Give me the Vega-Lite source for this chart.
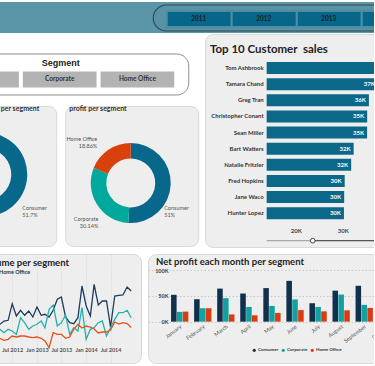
{
 "$schema": "https://vega.github.io/schema/vega-lite/v6.json",
 "background": "white",
 "padding": {"left": -78, "right": -57, "top": 2, "bottom": 0},
 "config": {
  "font": "Lato",
  "view": {"stroke": null},
  "axis": {"labelFont": "Lato"},
  "legend": {"labelFont": "Lato"},
  "title": {"font": "Lato"}
 },
 "spacing": 5,
 "resolve": {"scale": {"color": "independent", "fill": "independent", "stroke": "independent"}, "legend": {"color": "independent", "fill": "independent", "stroke": "independent"}},
 "vconcat": [
  {
   "spacing": 0,
   "resolve": {"scale": {"color": "independent", "fill": "independent", "stroke": "independent"}, "legend": {"color": "independent", "fill": "independent", "stroke": "independent"}},
   "vconcat": [
    {
     "width": 508,
     "height": 31,
     "view": {"fill": "#5b96a8", "stroke": null},
     "resolve": {"scale": {"y": "independent"}},
     "layer": [
      {
       "data": {"values": [{}]},
       "mark": {"type": "rect", "fill": "#5892a4", "stroke": "#2e4b56", "strokeWidth": 1.2, "cornerRadius": 13, "clip": true},
       "encoding": {
        "x": {"datum": {"year": 2010, "month": 10, "date": 20}, "type": "temporal", "scale": {"domain": [{"year": 2007, "month": 4, "date": 5}, {"year": 2015, "month": 1, "date": 28}], "nice": false}, "axis": null},
        "x2": {"datum": {"year": 2015, "month": 8, "date": 1}},
        "y": {"datum": "o", "type": "nominal", "scale": {"paddingInner": 0, "paddingOuter": 0.096, "align": 0.6}, "axis": null}
       }
      },
      {
       "data": {"values": [{"year": "2011-01-01T00:00:00"}, {"year": "2012-01-01T00:00:00"}, {"year": "2013-01-01T00:00:00"}, {"year": "2014-01-01T00:00:00"}]},
       "encoding": {
        "y": {"datum": "b", "type": "nominal", "scale": {"paddingInner": 0, "paddingOuter": 0.469, "align": 0.6}, "axis": null}
       },
       "layer": [
        {"mark": {"type": "rect", "fill": "#07678a", "stroke": "#4f8ea2", "strokeWidth": 2}, "encoding": {"x": {"field": "year", "type": "temporal", "timeUnit": "year", "axis": null}}},
        {"mark": {"type": "text", "fontSize": 6.5, "fontWeight": "bold", "color": "#1d1d1d"}, "encoding": {"x": {"field": "year", "type": "temporal", "timeUnit": "year", "bandPosition": 0.5, "axis": null}, "text": {"field": "year", "type": "temporal", "timeUnit": "year", "format": "%Y"}}}
       ]
      }
     ]
    },
    {
     "spacing": 5,
     "resolve": {"scale": {"color": "independent", "fill": "independent", "stroke": "independent"}, "legend": {"color": "independent", "fill": "independent", "stroke": "independent"}},
     "hconcat": [
      {
       "spacing": 8.5,
       "center": true,
       "vconcat": [
        {
         "width": 255,
         "height": 9.5,
         "data": {"values": [{}]},
         "mark": {"type": "rect", "opacity": 0}
        },
        {
         "width": 255,
         "height": 41,
         "view": {"fill": "white", "stroke": "#8c8c8c", "strokeWidth": 1, "cornerRadius": 12},
         "title": {"text": "Segment", "font": "Liberation Sans", "fontSize": 9, "fontWeight": "bold", "color": "#222", "anchor": "middle", "frame": "group", "offset": -14.5},
         "data": {"values": [{"segment": "Consumer"}, {"segment": "Corporate"}, {"segment": "Home Office"}]},
         "encoding": {
          "x": {"field": "segment", "type": "nominal", "scale": {"paddingInner": 0.0515, "paddingOuter": 0.167, "align": 0.46}, "axis": null},
          "y": {"datum": "b", "type": "nominal", "scale": {"paddingInner": 0, "paddingOuter": 0.78, "align": 0.72}, "axis": null}
         },
         "layer": [
          {"mark": {"type": "rect", "fill": "#b3b3b3"}},
          {"mark": {"type": "text", "fontSize": 6.5, "fontWeight": "bold", "color": "#333"}, "encoding": {"text": {"field": "segment"}}}
         ]
        },
        {
         "spacing": 7,
         "hconcat": [
          {
           "width": 133,
           "height": 140,
           "view": {"fill": "#eeeeee", "stroke": "#d9d9d9", "cornerRadius": 8},
           "title": {"text": "sales per segment", "anchor": "end", "frame": "group", "dx": -17, "offset": -5.5, "fontSize": 7, "fontWeight": "bold", "color": "#333"},
           "data": {"values": [{"segment": "Consumer", "share": 0.517}, {"segment": "Corporate", "share": 0.304}, {"segment": "Home Office", "share": 0.179}]},
           "transform": [
            {"stack": "share", "groupby": [], "as": ["t0", "t1"]},
            {"calculate": "(datum.t0 + datum.t1) / 2", "as": "mid"},
            {"calculate": "datum.segment + '\\n' + format(datum.share, '.4~%')", "as": "label"}
           ],
           "layer": [
            {
             "mark": {"type": "arc", "radius": 42, "innerRadius": 26, "xOffset": -4.5, "yOffset": -1.5},
             "encoding": {
              "theta": {"field": "t0", "type": "quantitative", "scale": {"domain": [0, 1]}},
              "theta2": {"field": "t1"},
              "color": {"field": "segment", "type": "nominal", "scale": {"domain": ["Consumer", "Corporate", "Home Office"], "range": ["#07688b", "#01a99d", "#d8400c"]}, "legend": null}
             }
            },
            {
             "transform": [{"filter": "datum.segment === 'Consumer'"}],
             "mark": {"type": "text", "radius": 48, "align": "left", "baseline": "middle", "lineBreak": "\n", "lineHeight": 7, "dx": -10.9, "dy": 30.5, "xOffset": -4.5, "yOffset": -1.5, "fontSize": 5.5, "color": "#555"},
             "encoding": {"theta": {"field": "mid", "type": "quantitative", "scale": {"domain": [0, 1]}}, "text": {"field": "label"}}
            }
           ]
          },
          {
           "width": 133,
           "height": 140,
           "view": {"fill": "#eeeeee", "stroke": "#d9d9d9", "cornerRadius": 8},
           "title": {"text": "profit per segment", "anchor": "start", "frame": "group", "dx": 4, "offset": -5.5, "fontSize": 7, "fontWeight": "bold", "color": "#333"},
           "data": {"values": [{"segment": "Consumer", "share": 0.51}, {"segment": "Corporate", "share": 0.3014}, {"segment": "Home Office", "share": 0.1886}]},
           "transform": [
            {"stack": "share", "groupby": [], "as": ["t0", "t1"]},
            {"calculate": "(datum.t0 + datum.t1) / 2", "as": "mid"},
            {"calculate": "datum.segment + '\\n' + format(datum.share, '.4~%')", "as": "label"}
           ],
           "layer": [
            {
             "mark": {"type": "arc", "radius": 40, "innerRadius": 24.5, "xOffset": -1, "yOffset": 7},
             "encoding": {
              "theta": {"field": "t0", "type": "quantitative", "scale": {"domain": [0, 1]}},
              "theta2": {"field": "t1"},
              "color": {"field": "segment", "type": "nominal", "scale": {"domain": ["Consumer", "Corporate", "Home Office"], "range": ["#07688b", "#01a99d", "#d8400c"]}, "legend": null}
             }
            },
            {
             "transform": [{"filter": "datum.segment === 'Consumer'"}],
             "mark": {"type": "text", "radius": 48, "align": "left", "baseline": "middle", "lineBreak": "\n", "lineHeight": 7, "dx": -14.5, "dy": 23.5, "xOffset": -1, "yOffset": 7, "fontSize": 5.5, "color": "#555"},
             "encoding": {"theta": {"field": "mid", "type": "quantitative", "scale": {"domain": [0, 1]}}, "text": {"field": "label"}}
            },
            {
             "transform": [{"filter": "datum.segment === 'Corporate'"}],
             "mark": {"type": "text", "radius": 48, "align": "right", "baseline": "middle", "lineBreak": "\n", "lineHeight": 7, "dx": 8.2, "dy": 10.5, "xOffset": -1, "yOffset": 7, "fontSize": 5.5, "color": "#555"},
             "encoding": {"theta": {"field": "mid", "type": "quantitative", "scale": {"domain": [0, 1]}}, "text": {"field": "label"}}
            },
            {
             "transform": [{"filter": "datum.segment === 'Home Office'"}],
             "mark": {"type": "text", "radius": 48, "align": "right", "baseline": "middle", "lineBreak": "\n", "lineHeight": 7, "dx": -6.7, "dy": -3.7, "xOffset": -1, "yOffset": 7, "fontSize": 5.5, "color": "#555"},
             "encoding": {"theta": {"field": "mid", "type": "quantitative", "scale": {"domain": [0, 1]}}, "text": {"field": "label"}}
            }
           ]
          }
         ]
        }
       ]
      },
      {
       "width": 200,
       "height": 213,
       "view": {"fill": "#eeeeee", "stroke": "#d9d9d9", "cornerRadius": 8},
       "title": {"text": "Top 10 Customer\u00a0 sales", "anchor": "start", "frame": "group", "dx": 5, "offset": -21, "fontSize": 11.5, "fontWeight": "bold", "color": "#222"},
       "data": {"values": [
        {"customer": "Tom Ashbrook", "sales": 40489},
        {"customer": "Tamara Chand", "sales": 37457},
        {"customer": "Greg Tran", "sales": 35551},
        {"customer": "Christopher Conant", "sales": 35187},
        {"customer": "Sean Miller", "sales": 35170},
        {"customer": "Bart Watters", "sales": 32310},
        {"customer": "Natalie Fritzler", "sales": 31781},
        {"customer": "Fred Hopkins", "sales": 30400},
        {"customer": "Jane Waco", "sales": 30288},
        {"customer": "Hunter Lopez", "sales": 30243}
       ]},
       "transform": [
        {"window": [{"op": "row_number", "as": "rank"}]},
        {"calculate": "replace(format(datum.sales, '.2s'), 'k', 'K')", "as": "label"}
       ],
       "layer": [
        {
         "mark": {"type": "bar", "orient": "horizontal", "height": 12, "color": "#0b6889"},
         "encoding": {
          "y": {"field": "rank", "type": "quantitative", "scale": {"domain": [-1.108, 12.097], "reverse": true, "nice": false, "zero": false, "padding": 0}, "axis": null},
          "x": {"field": "sales", "type": "quantitative", "scale": {"domain": [680, 43230], "nice": false, "zero": false, "padding": 0}, "axis": {"orient": "top", "offset": -206.7, "values": [20000, 30000], "labelExpr": "datum.value / 1000 + 'K'", "domain": false, "ticks": false, "grid": false, "labelPadding": 7, "labelFontSize": 6, "labelFontWeight": "bold", "labelColor": "#444", "labelFlush": false, "title": null}},
          "x2": {"datum": 13800}
         }
        },
        {
         "mark": {"type": "text", "align": "right", "dx": -3, "fontSize": 6, "fontWeight": "bold", "color": "white"},
         "encoding": {"y": {"field": "rank", "type": "quantitative"}, "x": {"field": "sales", "type": "quantitative"}, "text": {"field": "label"}}
        },
        {
         "mark": {"type": "text", "align": "right", "dx": -3, "fontSize": 6, "fontWeight": "bold", "color": "#333"},
         "encoding": {"y": {"field": "rank", "type": "quantitative"}, "x": {"datum": 13800}, "text": {"field": "customer"}}
        },
        {
         "data": {"values": [{}]},
         "mark": {"type": "rule", "color": "#a8a8a8", "strokeWidth": 1.2},
         "encoding": {"x": {"datum": 13800}, "x2": {"datum": 23600}, "y": {"datum": 11.706}}
        },
        {
         "data": {"values": [{}]},
         "mark": {"type": "rule", "color": "#555555", "strokeWidth": 1.2},
         "encoding": {"x": {"datum": 23600}, "x2": {"datum": 43230}, "y": {"datum": 11.706}}
        },
        {
         "data": {"values": [{}]},
         "mark": {"type": "point", "filled": true, "fill": "white", "stroke": "#444444", "strokeWidth": 1, "size": 22, "opacity": 1},
         "encoding": {"x": {"datum": 23600}, "y": {"datum": 11.706}}
        }
       ]
      }
     ]
    }
   ]
  },
  {
   "spacing": 5,
   "resolve": {"scale": {"color": "independent", "fill": "independent", "stroke": "independent"}, "legend": {"color": "independent", "fill": "independent", "stroke": "independent"}},
   "hconcat": [
    {
     "width": 218,
     "height": 109,
     "view": {"fill": "#eeeeee", "stroke": "#d9d9d9", "cornerRadius": 8},
     "title": {"text": "Sales volume per segment", "anchor": "end", "frame": "group", "dx": -72, "offset": -13, "fontSize": 9.5, "fontWeight": "bold", "color": "#222"},
     "data": {"values": [
      {"month": "2012-04-01T00:00:00", "Consumer": 26.7, "Corporate": 21.7, "Home Office": 12.7},
      {"month": "2012-05-01T00:00:00", "Consumer": 30, "Corporate": 18.3, "Home Office": 10.7},
      {"month": "2012-06-01T00:00:00", "Consumer": 30.7, "Corporate": 21.7, "Home Office": 11.7},
      {"month": "2012-07-01T00:00:00", "Consumer": 47.3, "Corporate": 20, "Home Office": 15},
      {"month": "2012-08-01T00:00:00", "Consumer": 35, "Corporate": 16.7, "Home Office": 14},
      {"month": "2012-09-01T00:00:00", "Consumer": 40.7, "Corporate": 33.3, "Home Office": 15},
      {"month": "2012-10-01T00:00:00", "Consumer": 35.7, "Corporate": 28.3, "Home Office": 15},
      {"month": "2012-11-01T00:00:00", "Consumer": 40, "Corporate": 21.7, "Home Office": 14},
      {"month": "2012-12-01T00:00:00", "Consumer": 34, "Corporate": 25, "Home Office": 13.3},
      {"month": "2013-01-01T00:00:00", "Consumer": 44, "Corporate": 26.7, "Home Office": 14},
      {"month": "2013-02-01T00:00:00", "Consumer": 35.7, "Corporate": 30, "Home Office": 12.7},
      {"month": "2013-03-01T00:00:00", "Consumer": 36.7, "Corporate": 23.3, "Home Office": 10},
      {"month": "2013-04-01T00:00:00", "Consumer": 34, "Corporate": 41.7, "Home Office": 3.3},
      {"month": "2013-05-01T00:00:00", "Consumer": 40.7, "Corporate": 46, "Home Office": 18.3},
      {"month": "2013-06-01T00:00:00", "Consumer": 51.7, "Corporate": 25, "Home Office": 16.7},
      {"month": "2013-07-01T00:00:00", "Consumer": 54, "Corporate": 28.3, "Home Office": 16.7},
      {"month": "2013-08-01T00:00:00", "Consumer": 34, "Corporate": 36, "Home Office": 12.7},
      {"month": "2013-09-01T00:00:00", "Consumer": 28.3, "Corporate": 16.7, "Home Office": 14},
      {"month": "2013-10-01T00:00:00", "Consumer": 27.3, "Corporate": 23.3, "Home Office": 22},
      {"month": "2013-11-01T00:00:00", "Consumer": 33.3, "Corporate": 20, "Home Office": 26.5},
      {"month": "2013-12-01T00:00:00", "Consumer": 65, "Corporate": 43.3, "Home Office": 23},
      {"month": "2014-01-01T00:00:00", "Consumer": 45, "Corporate": 11.7, "Home Office": 25},
      {"month": "2014-02-01T00:00:00", "Consumer": 35, "Corporate": 21.7, "Home Office": 24},
      {"month": "2014-03-01T00:00:00", "Consumer": 66.7, "Corporate": 23.3, "Home Office": 22},
      {"month": "2014-04-01T00:00:00", "Consumer": 46, "Corporate": 28.3, "Home Office": 18},
      {"month": "2014-05-01T00:00:00", "Consumer": 50, "Corporate": 30, "Home Office": 19},
      {"month": "2014-06-01T00:00:00", "Consumer": 50, "Corporate": 15, "Home Office": 19},
      {"month": "2014-07-01T00:00:00", "Consumer": 24, "Corporate": 23.3, "Home Office": 21},
      {"month": "2014-08-01T00:00:00", "Consumer": 55, "Corporate": 31.7, "Home Office": 29},
      {"month": "2014-09-01T00:00:00", "Consumer": 55.7, "Corporate": 38.3, "Home Office": 27},
      {"month": "2014-10-01T00:00:00", "Consumer": 56, "Corporate": 38.3, "Home Office": 28.3},
      {"month": "2014-11-01T00:00:00", "Consumer": 64, "Corporate": 40.7, "Home Office": 27.5},
      {"month": "2014-12-01T00:00:00", "Consumer": 60, "Corporate": 33.3, "Home Office": 23.5}
     ]},
     "transform": [{"fold": ["Consumer", "Corporate", "Home Office"], "as": ["segment", "value"]}],
     "mark": {"type": "line", "strokeWidth": 1.3},
     "encoding": {
      "x": {"field": "month", "type": "temporal", "scale": {"domain": [{"year": 2010, "month": 9, "date": 8}, {"year": 2015, "month": 2, "date": 12}], "nice": false},
       "axis": {"values": [{"year": 2011, "month": 1, "date": 1}, {"year": 2011, "month": 7, "date": 1}, {"year": 2012, "month": 1, "date": 1}, {"year": 2012, "month": 7, "date": 1}, {"year": 2013, "month": 1, "date": 1}, {"year": 2013, "month": 7, "date": 1}, {"year": 2014, "month": 1, "date": 1}, {"year": 2014, "month": 7, "date": 1}],
        "format": "%b %Y", "offset": -18, "labelFontSize": 5.5, "labelFontWeight": "bold", "labelColor": "#555", "domain": false, "ticks": false, "grid": true, "gridDash": [1, 2], "gridColor": "#d2d2d2", "labelPadding": 2, "labelFlush": false, "labelOverlap": false, "title": null}},
      "y": {"field": "value", "type": "quantitative", "scale": {"domain": [-12, 97], "nice": false, "zero": false}, "axis": null},
      "stroke": {"field": "segment", "type": "nominal", "scale": {"domain": ["Consumer", "Corporate", "Home Office"], "range": ["#1b3c5e", "#20b2ab", "#e4501c"]},
       "legend": {"orient": "none", "legendX": 0, "legendY": 15, "direction": "horizontal", "title": null, "symbolType": "circle", "symbolSize": 6, "symbolStrokeWidth": 3, "labelFontSize": 5.5, "labelFontWeight": "bold", "labelColor": "#333", "columnPadding": -4, "labelOffset": 2}}
     }
    },
    {
     "width": 271,
     "height": 109,
     "view": {"fill": "#eeeeee", "stroke": "#d9d9d9", "cornerRadius": 8},
     "title": {"text": "Net profit each month per segment", "anchor": "start", "frame": "group", "dx": 8, "offset": -12, "fontSize": 9.5, "fontWeight": "bold", "color": "#222"},
     "data": {"values": [
      {"month": "January", "segment": "Consumer", "profit": 52000},
      {"month": "January", "segment": "Corporate", "profit": 19000},
      {"month": "January", "segment": "Home Office", "profit": 19500},
      {"month": "February", "segment": "Consumer", "profit": 43500},
      {"month": "February", "segment": "Corporate", "profit": 26000},
      {"month": "February", "segment": "Home Office", "profit": 26000},
      {"month": "March", "segment": "Consumer", "profit": 64000},
      {"month": "March", "segment": "Corporate", "profit": 45500},
      {"month": "March", "segment": "Home Office", "profit": 14000},
      {"month": "April", "segment": "Consumer", "profit": 54500},
      {"month": "April", "segment": "Corporate", "profit": 28500},
      {"month": "April", "segment": "Home Office", "profit": 12300},
      {"month": "May", "segment": "Consumer", "profit": 65000},
      {"month": "May", "segment": "Corporate", "profit": 30500},
      {"month": "May", "segment": "Home Office", "profit": 17000},
      {"month": "June", "segment": "Consumer", "profit": 79000},
      {"month": "June", "segment": "Corporate", "profit": 43000},
      {"month": "June", "segment": "Home Office", "profit": 22500},
      {"month": "July", "segment": "Consumer", "profit": 35700},
      {"month": "July", "segment": "Corporate", "profit": 28500},
      {"month": "July", "segment": "Home Office", "profit": 20000},
      {"month": "August", "segment": "Consumer", "profit": 60000},
      {"month": "August", "segment": "Corporate", "profit": 52500},
      {"month": "August", "segment": "Home Office", "profit": 22000},
      {"month": "September", "segment": "Consumer", "profit": 69500},
      {"month": "September", "segment": "Corporate", "profit": 32500},
      {"month": "September", "segment": "Home Office", "profit": 26600},
      {"month": "October", "segment": "Consumer", "profit": 69500},
      {"month": "October", "segment": "Corporate", "profit": 40000}
     ]},
     "mark": {"type": "bar"},
     "encoding": {
      "x": {"field": "month", "type": "nominal", "sort": ["January", "February", "March", "April", "May", "June", "July", "August", "September", "October"], "scale": {"paddingInner": 0.25, "paddingOuter": 1},
       "axis": {"orient": "bottom", "offset": -41.3, "labelAngle": -37, "labelFontSize": 5.5, "labelColor": "#555", "domain": false, "ticks": false, "labelPadding": 2, "title": null}},
      "xOffset": {"field": "segment", "type": "nominal", "sort": ["Consumer", "Corporate", "Home Office"], "scale": {"paddingInner": 0.06}},
      "y": {"field": "profit", "type": "quantitative", "stack": null, "scale": {"domain": [-80000, 131000], "nice": false, "zero": false},
       "axis": {"orient": "left", "offset": -22, "values": [0, 50000, 100000], "labelExpr": "datum.value / 1000 + 'K'", "domain": false, "ticks": false, "grid": true, "gridDash": [1.5, 2], "gridColor": "#c8c8c8", "labelFontSize": 5.5, "labelFontWeight": "bold", "labelColor": "#444", "labelPadding": 2, "title": null}},
      "y2": {"datum": 0},
      "fill": {"field": "segment", "type": "nominal", "scale": {"domain": ["Consumer", "Corporate", "Home Office"], "range": ["#10304c", "#14a0a0", "#da3c12"]},
       "legend": {"orient": "none", "legendX": 104, "legendY": 94, "direction": "horizontal", "title": null, "symbolType": "circle", "symbolSize": 10, "symbolStrokeWidth": 0, "labelFontSize": 4.5, "labelFontWeight": "bold", "labelColor": "#333", "columnPadding": 2, "labelOffset": 1.5}}
     }
    }
   ]
  }
 ]
}
